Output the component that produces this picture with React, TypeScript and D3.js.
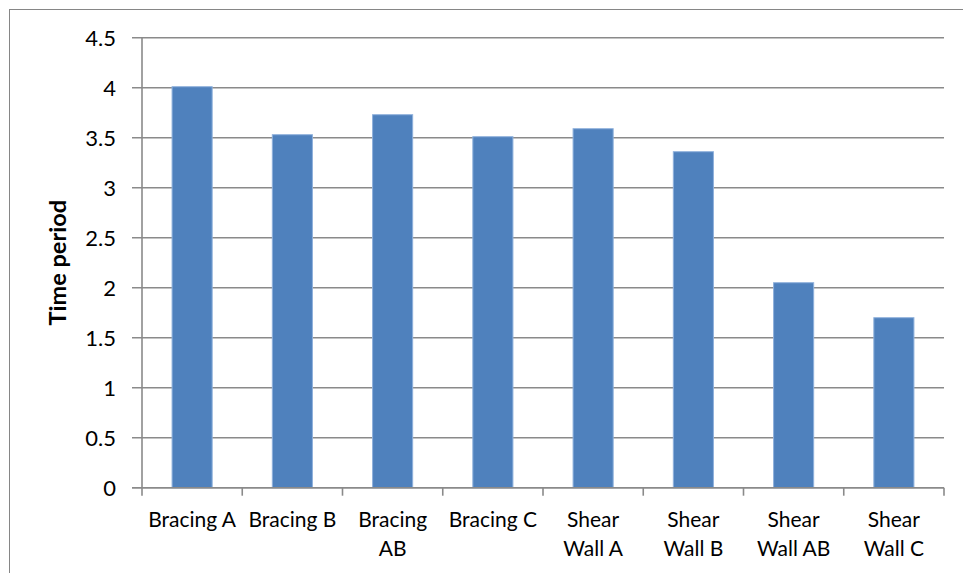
import React, { useEffect, useRef } from "react";
import * as d3 from "d3";

// Fundamental time period of each structural system
const categories: string[] = [
  "Bracing A",
  "Bracing B",
  "Bracing\nAB",
  "Bracing C",
  "Shear\nWall A",
  "Shear\nWall B",
  "Shear\nWall AB",
  "Shear\nWall C",
];
const timePeriods: number[] = [4.01, 3.53, 3.73, 3.51, 3.59, 3.36, 2.05, 1.7];
const yTicks: number[] = [0, 0.5, 1, 1.5, 2, 2.5, 3, 3.5, 4, 4.5];
const yTitle = "Time period";

const W = 963;
const H = 573;
const FONT = "Lato, 'Open Sans', sans-serif";

export default function App() {
  const ref = useRef<SVGSVGElement | null>(null);

  useEffect(() => {
    const svg = d3.select(ref.current);
    svg.selectAll("*").remove();

    const left = 142;
    const right = 944;
    const top = 37.7;
    const bottom = 487.7;

    const x = d3
      .scaleBand<string>()
      .domain(categories)
      .range([left, right])
      .paddingInner(0.6)
      .paddingOuter(0.3);
    const y = d3.scaleLinear().domain([0, 4.5]).range([bottom, top]);

    // chart frame
    svg
      .append("rect")
      .attr("x", 9.5)
      .attr("y", 9.5)
      .attr("width", W + 20)
      .attr("height", H + 20)
      .attr("fill", "#ffffff")
      .attr("stroke", "#868686")
      .attr("stroke-width", 1);

    // horizontal gridlines
    svg
      .append("g")
      .selectAll("line")
      .data(yTicks)
      .join("line")
      .attr("x1", left - 10)
      .attr("x2", right)
      .attr("y1", (d) => y(d))
      .attr("y2", (d) => y(d))
      .attr("stroke", "#8a8a8a")
      .attr("stroke-width", 1.6);

    // y axis line
    svg
      .append("line")
      .attr("x1", left)
      .attr("x2", left)
      .attr("y1", top)
      .attr("y2", bottom)
      .attr("stroke", "#8a8a8a")
      .attr("stroke-width", 1.6);

    // y tick labels
    svg
      .append("g")
      .selectAll("text")
      .data(yTicks)
      .join("text")
      .attr("x", 116)
      .attr("y", (d) => y(d))
      .attr("dy", "0.36em")
      .attr("text-anchor", "end")
      .attr("font-family", FONT)
      .attr("font-size", 22)
      .attr("fill", "#000")
      .text((d) => d3.format("")(d));

    // category tick marks at band boundaries
    const step = x.step();
    const boundaries = d3.range(categories.length + 1).map((i) => left + i * step);
    svg
      .append("g")
      .selectAll("line")
      .data(boundaries)
      .join("line")
      .attr("x1", (d) => d)
      .attr("x2", (d) => d)
      .attr("y1", bottom)
      .attr("y2", bottom + 8)
      .attr("stroke", "#8a8a8a")
      .attr("stroke-width", 1.6);

    // bars
    svg
      .append("g")
      .selectAll("rect")
      .data(categories.map((c, i) => ({ c, v: timePeriods[i] })))
      .join("rect")
      .attr("x", (d) => x(d.c)!)
      .attr("width", x.bandwidth())
      .attr("y", (d) => y(d.v))
      .attr("height", (d) => bottom - y(d.v))
      .attr("fill", "#4F81BD")
      .attr("stroke", "#8fb1dc")
      .attr("stroke-width", 1);

    // x axis baseline
    svg
      .append("line")
      .attr("x1", left - 10)
      .attr("x2", right)
      .attr("y1", bottom)
      .attr("y2", bottom)
      .attr("stroke", "#8a8a8a")
      .attr("stroke-width", 1.6);

    // category labels
    const lab = svg
      .append("g")
      .selectAll("text")
      .data(categories)
      .join("text")
      .attr("x", (d) => x(d)! + x.bandwidth() / 2)
      .attr("y", 527)
      .attr("text-anchor", "middle")
      .attr("font-family", FONT)
      .attr("font-size", 21)
      .attr("fill", "#000");
    lab
      .selectAll("tspan")
      .data((d) => d.split("\n"))
      .join("tspan")
      .attr("x", function () {
        return (this.parentNode as SVGTextElement).getAttribute("x");
      })
      .attr("dy", (_d, i) => (i === 0 ? 0 : 29))
      .text((d) => d);

    // y axis title
    svg
      .append("text")
      .attr("transform", `translate(66, ${(top + bottom) / 2}) rotate(-90)`)
      .attr("text-anchor", "middle")
      .attr("font-family", FONT)
      .attr("font-size", 23.5)
      .attr("font-weight", "bold")
      .attr("fill", "#000")
      .text(yTitle);
  }, []);

  return (
    <svg
      ref={ref}
      width={W}
      height={H}
      style={{ position: "absolute", left: 0, top: 0, background: "#fff" }}
    />
  );
}
